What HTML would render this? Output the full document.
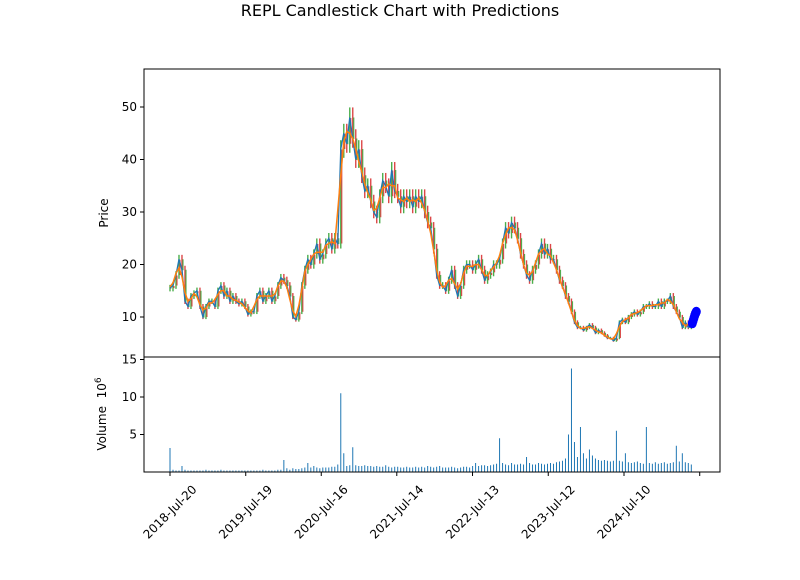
<!DOCTYPE html>
<html><head><meta charset="utf-8"><style>
body{margin:0;background:#fff;font-family:"Liberation Sans","DejaVu Sans",sans-serif}
svg text{font-family:"DejaVu Sans","Liberation Sans",sans-serif;font-size:12px;fill:#000}
</style></head><body>
<svg id="c" width="800" height="575" xmlns="http://www.w3.org/2000/svg">
<text x="400" y="16" text-anchor="middle" style="font-size:16px">REPL Candlestick Chart with Predictions</text>
<g id="price"></g><g id="vol"></g><g id="ax"></g>
</svg>
<script>
const closes=[15.5,16,18,21,19,13,12,14,14.5,15,12,10,12,13,13,12,15,16,14,15,13,14,13,12.5,13,12,10.5,11,11,14,15,13,14,15,13,14,16,17.5,17,16,14,10,9.5,11,16,19,21,20,22,24,21,22,24,25,23,25,24,42,45,43,48,44,40,42,37,34,35,32,30,29,33,36,35,33,38,34,33,31,33,32,33,31,33,32,33,30,28,27,23,18,16,16,15,17,19,16,14,16,19,20,20,19,20,21,19,17,18,18.5,20,20,21,24,27,26,28,27,25,22,20,18,17,19,20,22,24,22,23,21,21,19,17,16,14,13,11,9,8,8,7.5,8,8.5,8,7,7.5,7,6.5,6,6,5.5,6,9,9.5,9,10,10.5,11,10.5,11,12,12,12.5,12,12,13,12,13,13,14,12,11,10,8,9,8,9];
const volumes=[3.2,0.3,0.2,0.2,0.8,0.3,0.2,0.2,0.2,0.2,0.2,0.2,0.3,0.2,0.2,0.2,0.2,0.3,0.2,0.2,0.2,0.2,0.2,0.2,0.2,0.2,0.2,0.2,0.2,0.2,0.2,0.3,0.2,0.2,0.2,0.2,0.3,0.3,1.6,0.5,0.3,0.5,0.4,0.4,0.5,0.6,1.2,0.6,0.8,0.6,0.5,0.6,0.6,0.6,0.7,0.7,1.0,10.5,2.5,0.8,0.9,3.3,0.9,0.8,0.8,0.9,0.8,0.8,0.7,0.8,0.7,0.7,0.9,0.7,0.6,0.7,0.7,0.6,0.6,0.7,0.6,0.6,0.7,0.6,0.7,0.6,0.8,0.7,0.6,0.7,0.8,0.6,0.6,0.6,0.7,0.6,0.5,0.6,0.7,0.7,0.6,0.8,1.2,0.8,0.9,0.9,0.8,0.9,1.0,1.1,4.5,1.2,1.0,0.9,1.2,1.0,1.0,1.1,1.0,2.0,1.2,1.0,1.0,1.2,1.1,1.0,1.1,1.2,1.1,1.3,1.4,1.5,1.8,5.0,13.8,4.0,2.0,6.0,2.5,1.8,3.0,2.2,1.8,1.6,1.5,1.6,1.5,1.4,1.5,5.5,1.5,1.4,2.5,1.3,1.2,1.3,1.4,1.2,1.1,6.0,1.2,1.1,1.3,1.1,1.2,1.3,1.1,1.2,1.3,3.5,1.4,2.5,1.3,1.2,1.0];
const predictions=[8.8,9.3,9.8,10.3,10.7,11.0];
const tickLabels=["2018-Jul-20","2019-Jul-19","2020-Jul-16","2021-Jul-14","2022-Jul-13","2023-Jul-12","2024-Jul-10",""];
const tickDates=["2018-07-20","2019-07-19","2020-07-16","2021-07-14","2022-07-13","2023-07-12","2024-07-10","2025-07-09"];
const priceTicks=[10,20,30,40,50];
const volTicks=[5,10,15];
const startDate="2018-07-20", stepDays=14.4;

const NS="http://www.w3.org/2000/svg";
const L=144,R=720,PT=69,PB=357,VB=472;
const d0=Date.parse(startDate);
const xDate=ms=>170+(ms-d0)/86400000*0.20806;
const xi=i=>xDate(d0+i*stepDays*86400000);
const yP=p=>317-(p-10)*5.25;
const yV=v=>472-v*7.5;
function el(t,a,p){const e=document.createElementNS(NS,t);for(const k in a)e.setAttribute(k,a[k]);(p||document.getElementById('c')).appendChild(e);return e;}
const gp=document.getElementById('price'),gv=document.getElementById('vol'),ga=document.getElementById('ax');
closes.forEach((c,i)=>{const o=i?closes[i-1]:c;const up=c>=o;
 const hi=Math.max(o,c)*1.04,lo=Math.min(o,c)*0.96;
 const w=el('line',{x1:xi(i),x2:xi(i),y1:yP(hi),y2:yP(lo),stroke:up?'#2ca02c':'#d62728','stroke-width':1.4,opacity:0.85},gp);
 
 
 const b=el('line',{x1:xi(i)+1,x2:xi(i)+1,y1:yP(o),y2:yP(c)+0.5,stroke:up?'#d62728':'#2ca02c','stroke-width':1.2,opacity:0.8},gp);
 
 
});
const cl=el('polyline',{points:closes.map((c,i)=>xi(i)+','+yP(c)).join(' '),fill:'none',stroke:'#1f77b4','stroke-width':1.3},gp);


const ma=closes.map((c,i)=>{const s=closes.slice(Math.max(0,i-1),i+2);return s.reduce((a,b)=>a+b,0)/s.length;});
const ml=el('polyline',{points:ma.map((c,i)=>xi(i)+','+yP(c)).join(' '),fill:'none',stroke:'#ff7f0e','stroke-width':1.5},gp);


predictions.forEach((p,i)=>{const c=el('ellipse',{cx:xi(closes.length-1)+1+i*0.8,cy:yP(p),rx:4.5,ry:5,fill:'#0000ff'},gp);
 
 });
volumes.forEach((v,i)=>{const b=el('rect',{x:xi(i)-0.5,y:yV(v),width:1,height:v*7.5,fill:'#1f77b4'},gv);
 
 });
const f1=el('rect',{x:L,y:PT,width:R-L,height:PB-PT,fill:'none',stroke:'#000','stroke-width':1},ga);


const f2=el('rect',{x:L,y:PB,width:R-L,height:VB-PB,fill:'none',stroke:'#000','stroke-width':1},ga);


priceTicks.forEach(t=>{el('line',{x1:L-4,x2:L,y1:yP(t),y2:yP(t),stroke:'#000'},ga);
 const tx=el('text',{x:L-7,y:yP(t)+4,'text-anchor':'end'},ga);tx.textContent=t;
 
 });
volTicks.forEach(t=>{el('line',{x1:L-4,x2:L,y1:yV(t),y2:yV(t),stroke:'#000'},ga);
 const tx=el('text',{x:L-7,y:yV(t)+4,'text-anchor':'end'},ga);tx.textContent=t;
 
 });
tickDates.forEach((d,i)=>{const x=xDate(Date.parse(d));el('line',{x1:x,x2:x,y1:VB,y2:VB+4,stroke:'#000'},ga);
 if(tickLabels[i]){const cy=VB+40;const tx=el('text',{x:x,y:cy+4,'text-anchor':'middle',transform:`rotate(-45 ${x} ${cy})`},ga);tx.textContent=tickLabels[i];
 
 }});
const yl=el('text',{x:108,y:213,'text-anchor':'middle',transform:'rotate(-90 108 213)'},ga);yl.textContent='Price';


const vl=el('text',{x:106,y:414,'text-anchor':'middle',transform:'rotate(-90 106 414)'},ga);vl.innerHTML='Volume\u00a0\u00a010<tspan dy="-5" style="font-size:9px">6</tspan>';


</script>
</body></html>
